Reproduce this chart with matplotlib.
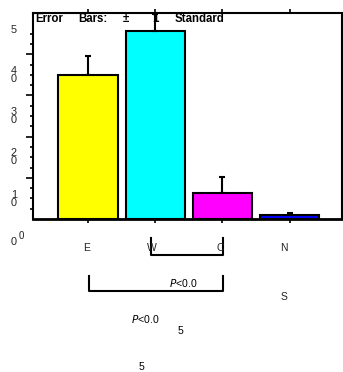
# plot.py
# Bar chart with upward error bars and significance brackets, saved as out.png

import numpy as np
import matplotlib.pyplot as plt

# data
categories = ["E", "W", "C", "N"]
means = [3.49, 4.57, 0.64, 0.09]
errors = [0.46, 0.40, 0.37, 0.06]
bar_colors = ["#FFFF00", "#00FFFF", "#FF00FF", "#0000FF"]
ytick_digits = ["1", "2", "3", "4", "5"]
ytick_vals = [0.5, 1.5, 2.5, 3.5, 4.5]
header_words = ["Error", "Bars:", "\u00b1", "1", "Standard"]
header_x = [0.22, 0.86, 1.51, 1.95, 2.29]


def PlotBars():
    plt.rcParams["font.family"] = ["Liberation Sans", "DejaVu Sans"]
    fig = plt.figure(figsize=(3.43, 3.72), dpi=100)
    ax = fig.add_axes([33 / 343, 1 - 219 / 372, 309 / 343, 206 / 372])

    x = np.arange(1, len(categories) + 1)
    ax.bar(x, means, width=0.885, color=bar_colors, edgecolor="black",
           linewidth=1.5, zorder=2)
    ax.errorbar(x, means, yerr=[np.zeros(len(errors)), errors], fmt="none",
                ecolor="black", elinewidth=1.5, capsize=2.5, capthick=1.5,
                zorder=3, clip_on=False)

    ax.set_xlim(0.18, 4.78)
    ax.set_ylim(0, 5)

    for s in ax.spines.values():
        s.set_linewidth(1.5)
    ax.spines["bottom"].set_linewidth(2)

    # ticks
    ax.set_xticks(x)
    ax.set_yticks([1, 2, 3, 4])
    ax.set_yticks(np.arange(0.25, 4.51, 0.25), minor=True)
    ax.tick_params(axis="x", which="both", top=True, bottom=True,
                   direction="out", length=3, width=1.2, labelbottom=False)
    ax.tick_params(axis="y", which="major", direction="out", length=5,
                   width=1.2, labelleft=False)
    ax.tick_params(axis="y", which="minor", direction="out", length=2.5,
                   width=1.2)

    # garbled y tick labels
    fs = 7.8
    ytr = ax.get_yaxis_transform()
    for v, d in zip(ytick_vals, ytick_digits):
        ax.text(-0.0615, v + 0.09, d, transform=ytr, ha="center",
                va="center", fontsize=fs, color="#222222", clip_on=False)
        if d != "5":
            ax.text(-0.0615, v - 0.1, "0", transform=ytr, ha="center",
                    va="center", fontsize=fs, color="#222222", clip_on=False)
    ax.text(-0.0615, -0.56, "0", transform=ytr, ha="center", va="center",
            fontsize=fs, color="#222222", clip_on=False)
    ax.text(-0.039, -0.41, "0", transform=ytr, ha="center", va="center",
            fontsize=7, color="#222222", clip_on=False)

    # header
    for xx, w in zip(header_x, header_words):
        ax.text(xx, 4.85, w, ha="left", va="center", fontsize=8.3,
                fontweight="bold", clip_on=False, zorder=4)

    # category labels
    lab_x = [0.97, 1.95, 2.97, 3.92]
    for xx, c in zip(lab_x, categories):
        ax.text(xx, -0.71, c, ha="center", va="center", fontsize=7.5,
                color="#222222", clip_on=False)
    ax.text(3.92, -1.9, "S", ha="center", va="center", fontsize=7.5,
            color="#222222", clip_on=False)

    # brackets
    ax.plot([1.94, 1.94, 3.01, 3.01], [-0.46, -0.87, -0.87, -0.46],
            color="black", linewidth=1.5, clip_on=False)
    ax.plot([1.01, 1.01, 3.01, 3.01], [-1.38, -1.75, -1.75, -1.38],
            color="black", linewidth=1.5, clip_on=False)

    ax.text(2.42, -1.56, "$\\it{P}$<0.0", ha="center", va="center",
            fontsize=7.6, clip_on=False)
    ax.text(1.85, -2.43, "$\\it{P}$<0.0", ha="center", va="center",
            fontsize=7.6, clip_on=False)
    ax.text(2.37, -2.72, "5", ha="center", va="center", fontsize=7.6,
            clip_on=False)
    ax.text(1.80, -3.59, "5", ha="center", va="center", fontsize=7.6,
            clip_on=False)

    fig.savefig("out.png", dpi=100)


if __name__ == "__main__":
    PlotBars()
